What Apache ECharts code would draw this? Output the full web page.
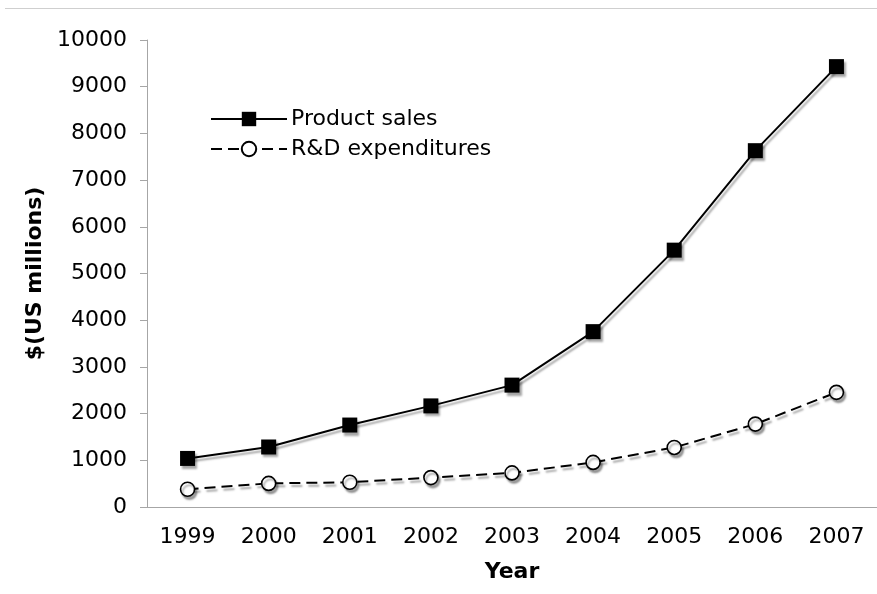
<!DOCTYPE html>
<html>
<head>
<meta charset="utf-8">
<script src="https://cdn.jsdelivr.net/npm/echarts@6/dist/echarts.min.js"></script>
<style>
  html, body { margin: 0; padding: 0; background: #fff; }
  #chart { width: 877px; height: 594px; }
</style>
</head>
<body>
<div id="chart"></div>
<script>
// Years on the horizontal axis
const years = ['1999', '2000', '2001', '2002', '2003', '2004', '2005', '2006', '2007'];
// Values in US$ millions
const productSales = [1040, 1285, 1755, 2165, 2610, 3755, 5500, 7630, 9430];
const rdExpenditures = [380, 505, 530, 630, 730, 955, 1275, 1775, 2455];

const FONT = 'DejaVu Sans, Verdana, sans-serif';
const shadow = {
  shadowColor: 'rgba(0,0,0,0.35)',
  shadowBlur: 2,
  shadowOffsetX: 2,
  shadowOffsetY: 3
};

const chart = echarts.init(document.getElementById('chart'), null, { renderer: 'canvas' });

chart.setOption({
  backgroundColor: '#ffffff',
  animation: false,
  textStyle: { fontFamily: FONT, color: '#000' },
  graphic: [{
    type: 'line',
    shape: { x1: 5, y1: 8.5, x2: 877, y2: 8.5 },
    style: { stroke: '#cfcfcf', lineWidth: 1 }
  }],
  grid: { left: 147, right: -12, top: 40, bottom: 87, containLabel: false },
  legend: {
    left: 210,
    top: 108,
    padding: 0,
    orient: 'vertical',
    itemWidth: 76,
    itemHeight: 18,
    itemGap: 8,
    textStyle: { fontFamily: FONT, fontSize: 22, color: '#000', padding: [0, 0, 0, -1] },
    data: ['Product sales', 'R&D expenditures']
  },
  xAxis: {
    type: 'category',
    data: years,
    boundaryGap: true,
    name: 'Year',
    nameLocation: 'middle',
    nameGap: 54,
    nameTextStyle: { fontFamily: FONT, fontSize: 22, fontWeight: 'bold', color: '#000' },
    axisLine: { lineStyle: { color: '#a6a6a6', width: 1 } },
    axisTick: { alignWithLabel: false, length: 6, lineStyle: { color: '#a6a6a6' } },
    axisLabel: { fontFamily: FONT, fontSize: 22, color: '#000', margin: 19 },
    splitLine: { show: false }
  },
  yAxis: {
    type: 'value',
    min: 0,
    max: 10000,
    interval: 1000,
    name: '$(US millions)',
    nameLocation: 'middle',
    nameGap: 100,
    nameRotate: 90,
    nameTextStyle: { fontFamily: FONT, fontSize: 22, fontWeight: 'bold', color: '#000' },
    axisLine: { show: true, lineStyle: { color: '#a6a6a6', width: 1 } },
    axisTick: { show: true, length: 7, lineStyle: { color: '#a6a6a6' } },
    axisLabel: {
      fontFamily: FONT, fontSize: 22, color: '#000', margin: 20,
      formatter: (v) => String(v)
    },
    splitLine: { show: false }
  },
  series: [
    {
      name: 'Product sales',
      type: 'line',
      data: productSales,
      symbol: 'rect',
      symbolSize: 15,
      lineStyle: Object.assign({ color: '#000', width: 2, type: 'solid' }, shadow),
      itemStyle: Object.assign({ color: '#000', borderColor: '#000', borderWidth: 0 }, shadow),
      z: 3
    },
    {
      name: 'R&D expenditures',
      type: 'line',
      data: rdExpenditures,
      symbol: 'circle',
      symbolSize: 14,
      showAllSymbol: true,
      lineStyle: Object.assign({ color: '#000', width: 2, type: [11, 6] }, shadow),
      itemStyle: Object.assign({ color: '#fff', borderColor: '#000', borderWidth: 1.6 }, shadow),
      z: 2
    }
  ]
});
</script>
</body>
</html>
